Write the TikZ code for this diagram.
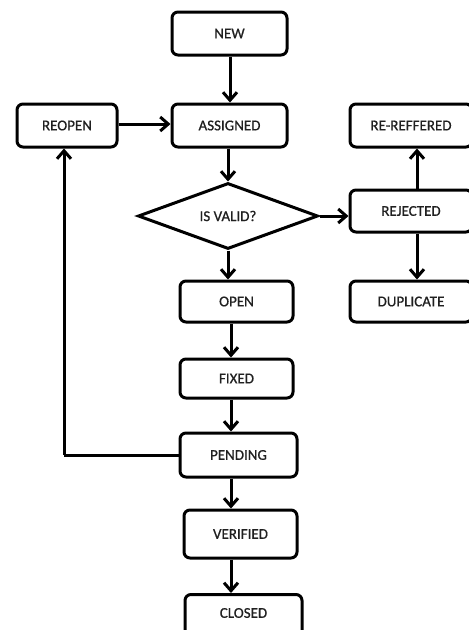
\documentclass[tikz,border=0pt]{standalone}
\usepackage{fontspec}
\setmainfont{Carlito}
\newfontfamily\lblfont{Carlito}[BoldFont=Carlito, BoldFeatures={FakeBold=0.7}]
\usetikzlibrary{shapes.geometric,arrows.meta}
\definecolor{txt}{HTML}{202020}
\tikzset{
  lbl/.style={font=\lblfont\bfseries\fontsize{15}{18}\selectfont, text=txt},
  box/.style={draw=black, line width=3pt, rounded corners=6pt, minimum width=#1, inner sep=0pt, lbl},
  box/.default=115pt,
  dia/.style={draw=black, line width=3pt, diamond, aspect=2.72, inner sep=0pt, minimum width=180pt, minimum height=66pt, lbl},
  conn/.style={draw=black, line width=3pt, -{Straight Barb[length=8pt,width=14pt,line width=3pt]}},
  plain/.style={draw=black, line width=3pt}
}
\begin{document}
\begin{tikzpicture}[x=1pt,y=-1pt]
\useasboundingbox (0,0) rectangle (469,630);
\clip (0,0) rectangle (469,630);
\fill[white] (0,0) rectangle (469,630);
\node[box=115pt, minimum height=43pt] (new) at (229.5,33.5) {NEW};
\node[box=115pt, minimum height=43pt] (assigned) at (229.5,125.5) {ASSIGNED};
\node[box=100pt, minimum height=43pt] (reopen) at (67,125.5) {REOPEN};
\node[box=122pt, minimum height=43pt] (reref) at (411,125.5) {RE-REFFERED};
\node[dia] (valid) at (228,216) {IS VALID?};
\node[box=122pt, minimum height=42pt] (rejected) at (411,211) {REJECTED};
\node[box=113pt, minimum height=41pt] (open) at (236.5,301.5) {OPEN};
\node[box=122pt, minimum height=41pt] (dup) at (411,301.5) {DUPLICATE};
\node[box=113pt, minimum height=39pt] (fixed) at (236.5,378.5) {FIXED};
\node[box=117pt, minimum height=44pt] (pending) at (238.5,455) {PENDING};
\node[box=113pt, minimum height=48pt] (verified) at (240.5,534) {VERIFIED};
\node[box=117pt, minimum height=48pt, anchor=north] (closed) at (243.5,593) {};
\node[lbl] (closedtxt) at (243.5,613) {CLOSED};
\coordinate (loop) at (64,455);
% connectors
\draw[conn] ([xshift=0.5pt]new.south) -- ([xshift=0.5pt]new.south |- assigned.north);
\draw[conn] ([xshift=-1.5pt]assigned.south) -- (valid.north);
\draw[conn] (valid.south) -- (valid.south |- open.north);
\draw[conn] ([xshift=-5.5pt]open.south) -- ([xshift=-5.5pt]open.south |- fixed.north);
\draw[conn] ([xshift=-5.5pt]fixed.south) -- ([xshift=-5.5pt]fixed.south |- pending.north);
\draw[conn] ([xshift=-7.5pt]pending.south) -- ([xshift=-7.5pt]pending.south |- verified.north);
\draw[conn] ([xshift=-9.5pt]verified.south) -- ([xshift=-9.5pt]verified.south |- closed.north);
\draw[conn] ([yshift=1.5pt]reopen.east) -- ([yshift=1.5pt]reopen.east -| assigned.west);
\draw[conn] (valid.east) -- (valid.east -| rejected.west);
\draw[conn] ([xshift=6pt]rejected.north) -- ([xshift=6pt]rejected.north |- reref.south);
\draw[conn] ([xshift=6pt]rejected.south) -- ([xshift=6pt]rejected.south |- dup.north);
\draw[plain] (pending.west) -- (loop);
\draw[conn] (loop) -- (loop |- reopen.south);
\end{tikzpicture}
\end{document}
